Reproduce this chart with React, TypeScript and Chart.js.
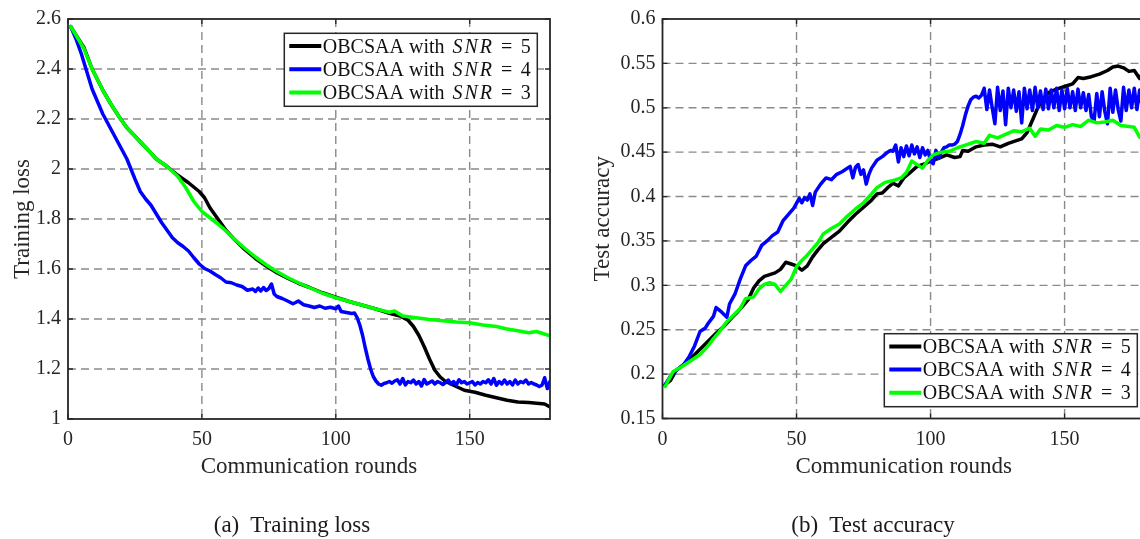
import React, { useEffect, useRef } from "react";
import { Chart, registerables } from "chart.js";

Chart.register(...registerables);

const FONT = '"Liberation Serif", "Times New Roman", serif';
const TEXT = "#262626";
const GRID = "#8a8a8a";

// ---------- ticks / labels ----------
const xTickValues = [0, 50, 100, 150];
const lossTickValues = [1, 1.2, 1.4, 1.6, 1.8, 2, 2.2, 2.4, 2.6];
const accTickValues = [0.15, 0.2, 0.25, 0.3, 0.35, 0.4, 0.45, 0.5, 0.55, 0.6];
const snrLevels = [5, 4, 3];
const seriesColors = ["#000000", "#0000ff", "#00ff00"];
const seriesOrder = [3, 2, 1];
const xTitle = "Communication rounds";
const lossTitle = "Training loss";
const accTitle = "Test accuracy";
const captionA = "(a)  Training loss";
const captionB = "(b)  Test accuracy";

const range = (a: number, b: number) => Array.from({ length: b - a + 1 }, (_, i) => a + i);

// ---------- (a) training loss ----------
const lossRoundsSNR5 = [1, 3, 6, 9, 13, 16, 19, 22, 26, 30, 33, 37, 41, 45, 49, 51, 53, 55, 57, 59, 62, 66, 70, 74, 78, 82, 86, 90, 95, 100, 105, 110, 115, 120, 124, 127, 129, 131, 133, 135, 137, 139, 141, 144, 148, 152, 156, 160, 164, 168, 172, 175, 178, 180];
const lossSNR5 = [2.57, 2.535, 2.485, 2.4, 2.315, 2.26, 2.21, 2.165, 2.12, 2.075, 2.04, 2.01, 1.975, 1.945, 1.91, 1.885, 1.845, 1.815, 1.785, 1.755, 1.72, 1.678, 1.642, 1.612, 1.585, 1.563, 1.543, 1.527, 1.505, 1.487, 1.47, 1.455, 1.44, 1.423, 1.412, 1.395, 1.37, 1.335, 1.29, 1.24, 1.195, 1.168, 1.15, 1.135, 1.115, 1.107, 1.095, 1.085, 1.075, 1.068, 1.066, 1.063, 1.06, 1.048];

const lossRoundsSNR3 = [1, 3, 6, 9, 13, 16, 19, 22, 26, 30, 33, 37, 41, 44, 47, 50, 53, 56, 59, 62, 66, 70, 74, 78, 82, 86, 90, 95, 100, 105, 110, 115, 120, 122, 125, 130, 135, 140, 145, 150, 155, 160, 164, 168, 172, 175, 177, 180];
const lossSNR3 = [2.57, 2.535, 2.48, 2.4, 2.315, 2.26, 2.21, 2.165, 2.12, 2.075, 2.04, 2.01, 1.97, 1.925, 1.87, 1.83, 1.805, 1.78, 1.752, 1.72, 1.683, 1.648, 1.617, 1.59, 1.566, 1.545, 1.526, 1.503, 1.485, 1.47, 1.455, 1.44, 1.427, 1.432, 1.412, 1.405, 1.398, 1.393, 1.388, 1.385, 1.376, 1.37, 1.36, 1.353, 1.345, 1.35, 1.343, 1.333];

const lossRoundsSNR4 = [1, 3, 5, 7, 9, 11, 13, 16, 19, 22, 25, 27, 29, 31, 33, 35, 37, 39, 41, 43, 45, 47, 49, 51, 53, 55, 57, 59, 61, 63, 65, 67, 69, 70, 71, 72, 73, 74, 75, 76, 77, 78, 80, 82, 84, 85, 86, 88, 90, 92, 94, 96, 98, 100, 101, 102, 104, 106, 107, 108, 109, 110, 111, 112, 113, 114, 115, 116, 117, 118, ...range(119, 180)];
const lossSNR4 = [
  2.57, 2.52, 2.46, 2.39, 2.32, 2.27, 2.22, 2.16, 2.1, 2.04,
  1.96, 1.91, 1.88, 1.855, 1.82, 1.785, 1.755, 1.725, 1.705, 1.69,
  1.672, 1.645, 1.62, 1.602, 1.592, 1.578, 1.565, 1.548, 1.545, 1.536,
  1.53, 1.515, 1.52, 1.51, 1.524, 1.512, 1.526, 1.514, 1.522, 1.54,
  1.5, 1.49, 1.482, 1.472, 1.461, 1.466, 1.472, 1.457, 1.452, 1.446,
  1.452, 1.443, 1.447, 1.441, 1.452, 1.43, 1.426, 1.422, 1.424, 1.405,
  1.375, 1.335, 1.285, 1.24, 1.2, 1.17, 1.152, 1.14, 1.135, 1.142,
  1.145, 1.15, 1.143, 1.152, 1.157, 1.14, 1.162, 1.136, 1.15, 1.145,
  1.156, 1.14, 1.15, 1.132, 1.158, 1.14, 1.146, 1.152, 1.14, 1.15,
  1.145, 1.138, 1.146, 1.156, 1.14, 1.15, 1.136, 1.157, 1.145, 1.15,
  1.14, 1.145, 1.15, 1.136, 1.146, 1.14, 1.15, 1.145, 1.157, 1.14,
  1.162, 1.135, 1.15, 1.14, 1.156, 1.14, 1.15, 1.136, 1.156, 1.14,
  1.15, 1.145, 1.156, 1.14, 1.146, 1.14, 1.136, 1.13, 1.135, 1.165,
  1.122, 1.15,
];

// ---------- (b) test accuracy ----------
const accRoundsSNR5 = [1, 3, 5, 8, 11, 14, 17, 20, 23, 26, 28, 30, 32, 34, 36, 38, 40, 42, 44, 46, 48, 50, 52, 54, 56, 58, 60, 63, 66, 69, 72, 75, 78, 80, 82, 84, 86, 88, 90, 92, 95, 98, 100, 103, 106, 109, 111, 112, 114, 117, 120, 123, 126, 129, 132, 134, 136, 138, 140, 142, 144, 147, 150, 153, 155, 157, 160, 163, 166, 168, 170, 172, 174, 176, 178, 180];
const accSNR5 = [0.188, 0.193, 0.204, 0.211, 0.219, 0.228, 0.237, 0.246, 0.254, 0.264, 0.27, 0.277, 0.284, 0.297, 0.305, 0.31, 0.312, 0.314, 0.318, 0.326, 0.324, 0.322, 0.317, 0.322, 0.332, 0.34, 0.347, 0.354, 0.361, 0.371, 0.38, 0.388, 0.396, 0.403, 0.404, 0.41, 0.415, 0.412, 0.421, 0.426, 0.434, 0.437, 0.44, 0.443, 0.447, 0.444, 0.445, 0.452, 0.451, 0.456, 0.458, 0.459, 0.456, 0.46, 0.463, 0.465, 0.472, 0.486, 0.5, 0.51, 0.517, 0.521, 0.524, 0.527, 0.534, 0.533, 0.535, 0.538, 0.542, 0.546, 0.547, 0.545, 0.541, 0.542, 0.533, 0.545];

const accRoundsSNR3 = [1, 2, 4, 7, 10, 14, 17, 19, 21, 24, 27, 29, 31, 34, 36, 38, 40, 42, 44, 46, 48, 50, 52, 54, 56, 58, 60, 63, 66, 69, 72, 75, 78, 80, 83, 86, 89, 91, 93, 95, 97, 99, 101, 104, 107, 110, 113, 117, 120, 122, 125, 128, 131, 134, 137, 139, 141, 144, 147, 150, 153, 156, 159, 162, 165, 168, 171, 174, 176, 178, 180];
const accSNR3 = [0.186, 0.192, 0.203, 0.208, 0.214, 0.222, 0.232, 0.24, 0.247, 0.259, 0.268, 0.274, 0.285, 0.287, 0.296, 0.301, 0.303, 0.301, 0.293, 0.3, 0.307, 0.321, 0.328, 0.334, 0.341, 0.348, 0.358, 0.364, 0.369, 0.378, 0.386, 0.393, 0.403, 0.41, 0.416, 0.418, 0.421, 0.427, 0.44, 0.436, 0.432, 0.441, 0.447, 0.45, 0.451, 0.455, 0.458, 0.462, 0.46, 0.469, 0.466, 0.47, 0.474, 0.473, 0.477, 0.468, 0.476, 0.475, 0.48, 0.478, 0.481, 0.479, 0.486, 0.483, 0.484, 0.486, 0.48, 0.479, 0.478, 0.467, 0.47];

const accRoundsSNR4 = [1, 3, 5, 8, 10, 12, 14, 16, 17, 19, 20, 22, 24, 25, 27, 29, 31, 33, 35, 37, 39, 41, 43, 45, 47, 49, 51, 52, 53, 54, 55, 56, 57, 59, 61, 63, 65, 67, 69, 70, 71, 72, 73, 74, 75, 76, 77, 78, 80, 82, 84, 85, 86, 87, 88, ...range(89, 180)];
const accSNR4 = [
  0.188, 0.198, 0.204, 0.211, 0.22, 0.232, 0.248, 0.252, 0.257, 0.265,
  0.275, 0.27, 0.264, 0.279, 0.29, 0.307, 0.322, 0.328, 0.333, 0.345,
  0.35, 0.356, 0.36, 0.373, 0.38, 0.387, 0.398, 0.393, 0.399, 0.396,
  0.403, 0.39, 0.405, 0.414, 0.421, 0.419, 0.425, 0.428, 0.432, 0.434,
  0.421, 0.433, 0.436, 0.425, 0.43, 0.414, 0.425, 0.432, 0.441, 0.445,
  0.45, 0.452, 0.451, 0.458, 0.439,
  0.455, 0.445, 0.457, 0.446, 0.458, 0.448, 0.456, 0.444, 0.455, 0.447,
  0.452, 0.44, 0.437, 0.452, 0.443, 0.45, 0.455, 0.456, 0.458, 0.458,
  0.459, 0.462, 0.47, 0.48, 0.492, 0.502, 0.509, 0.512, 0.513, 0.511,
  0.514,
  0.522, 0.498, 0.52, 0.5, 0.482, 0.523, 0.497, 0.519, 0.481, 0.522,
  0.5, 0.52, 0.496, 0.518, 0.483, 0.522, 0.499, 0.52, 0.497, 0.523,
  0.5, 0.519, 0.498, 0.521, 0.499, 0.52, 0.5, 0.522, 0.497, 0.52,
  0.499, 0.522, 0.5, 0.518, 0.497, 0.521, 0.5, 0.517, 0.497, 0.515,
  0.49, 0.485, 0.516, 0.49, 0.518, 0.496, 0.482, 0.522, 0.495, 0.52,
  0.498, 0.485, 0.523, 0.497, 0.52, 0.5, 0.522, 0.498, 0.52, 0.5,
  0.515,
];

const fmt = (v: number) => String(+Number(v).toFixed(2));

type PanelCfg = {
  series: { rounds: number[]; values: number[] }[];
  yTicks: number[];
  yMin: number;
  yMax: number;
  yTitle: string;
  yAxisWidth: number;
  yTitlePad: number;
  padding: { left: number; right: number; top: number; bottom: number };
  xAxisHeight: number;
  legend: { right: number; top?: number; bottom?: number };
};

function makeFramePlugin(cfg: PanelCfg) {
  return {
    id: "matlabFrame",
    beforeDatasetsDraw(chart: any) {
      const { ctx, chartArea: a, scales } = chart;
      ctx.save();
      ctx.strokeStyle = GRID;
      ctx.lineWidth = 1.4;
      ctx.setLineDash([8, 5]);
      for (const v of xTickValues) {
        const px = scales.x.getPixelForValue(v);
        if (px <= a.left + 1 || px >= a.right - 1) continue;
        ctx.beginPath();
        ctx.moveTo(px, a.top);
        ctx.lineTo(px, a.bottom);
        ctx.stroke();
      }
      for (const v of cfg.yTicks) {
        const py = scales.y.getPixelForValue(v);
        if (py <= a.top + 1 || py >= a.bottom - 1) continue;
        ctx.beginPath();
        ctx.moveTo(a.left, py);
        ctx.lineTo(a.right, py);
        ctx.stroke();
      }
      ctx.restore();
    },
    afterDatasetsDraw(chart: any) {
      const { ctx, chartArea: a, scales } = chart;
      ctx.save();
      ctx.strokeStyle = TEXT;
      ctx.lineWidth = 1.3;
      ctx.setLineDash([]);
      const tl = 5;
      for (const v of xTickValues) {
        const px = scales.x.getPixelForValue(v);
        ctx.beginPath();
        ctx.moveTo(px, a.bottom);
        ctx.lineTo(px, a.bottom - tl);
        ctx.moveTo(px, a.top);
        ctx.lineTo(px, a.top + tl);
        ctx.stroke();
      }
      for (const v of cfg.yTicks) {
        const py = scales.y.getPixelForValue(v);
        ctx.beginPath();
        ctx.moveTo(a.left, py);
        ctx.lineTo(a.left + tl, py);
        ctx.moveTo(a.right, py);
        ctx.lineTo(a.right - tl, py);
        ctx.stroke();
      }
      ctx.lineWidth = 1.8;
      ctx.strokeRect(a.left, a.top, a.right - a.left, a.bottom - a.top);
      ctx.restore();
    },
    afterDraw(chart: any) {
      const { ctx, chartArea: a } = chart;
      const w = 253;
      const h = 73;
      const x0 = a.right - cfg.legend.right - w;
      const y0 = cfg.legend.top !== undefined ? a.top + cfg.legend.top : a.bottom - (cfg.legend.bottom || 0) - h;
      ctx.save();
      ctx.fillStyle = "#ffffff";
      ctx.fillRect(x0, y0, w, h);
      ctx.strokeStyle = TEXT;
      ctx.lineWidth = 1.5;
      ctx.strokeRect(x0, y0, w, h);
      snrLevels.forEach((snr, i) => {
        const ry = y0 + 12.7 + i * 23.2;
        ctx.strokeStyle = seriesColors[i];
        ctx.lineWidth = 4;
        ctx.beginPath();
        ctx.moveTo(x0 + 5, ry);
        ctx.lineTo(x0 + 37, ry);
        ctx.stroke();
        ctx.fillStyle = "#111111";
        ctx.textBaseline = "alphabetic";
        ctx.textAlign = "left";
        let x = x0 + 38.5;
        const by = ry + 6.5;
        ctx.font = `20px ${FONT}`;
        const t1 = "OBCSAA with";
        ctx.fillText(t1, x, by);
        x += ctx.measureText(t1).width + 8;
        ctx.font = `italic 20px ${FONT}`;
        for (const ch of "SNR") {
          ctx.fillText(ch, x, by);
          x += ctx.measureText(ch).width + 2;
        }
        x += 7;
        ctx.font = `20px ${FONT}`;
        ctx.fillText("=", x, by);
        x += ctx.measureText("=").width + 8.5;
        ctx.fillText(String(snr), x, by);
      });
      ctx.restore();
    },
  };
}

function buildChart(canvas: HTMLCanvasElement, cfg: PanelCfg) {
  const datasets = cfg.series.map((s, i) => ({
    label: `OBCSAA with SNR = ${snrLevels[i]}`,
    data: s.rounds.map((r, k) => ({ x: r, y: s.values[k] })),
    borderColor: seriesColors[i],
    backgroundColor: seriesColors[i],
    borderWidth: 3.5,
    pointRadius: 0,
    tension: 0,
    fill: false,
    order: seriesOrder[i],
    borderJoinStyle: "round" as const,
    borderCapStyle: "round" as const,
  }));
  return new Chart(canvas, {
    type: "line",
    data: { datasets },
    options: {
      responsive: false,
      animation: false,
      devicePixelRatio: 1,
      layout: { padding: cfg.padding },
      plugins: { legend: { display: false }, tooltip: { enabled: false } },
      scales: {
        x: {
          type: "linear",
          min: 0,
          max: 180,
          afterBuildTicks: (s: any) => {
            s.ticks = xTickValues.map((v) => ({ value: v }));
          },
          afterFit: (s: any) => {
            s.height = cfg.xAxisHeight;
          },
          grid: { display: false, drawTicks: false },
          border: { display: false },
          ticks: {
            padding: 9,
            color: TEXT,
            autoSkip: false,
            maxRotation: 0,
            font: { family: FONT, size: 20 },
            callback: (v: any) => fmt(v),
          },
          title: {
            display: true,
            text: xTitle,
            color: TEXT,
            font: { family: FONT, size: 23 },
            padding: { top: 0, bottom: 58 },
          },
        },
        y: {
          type: "linear",
          min: cfg.yMin,
          max: cfg.yMax,
          afterBuildTicks: (s: any) => {
            s.ticks = cfg.yTicks.map((v) => ({ value: v }));
          },
          afterFit: (s: any) => {
            s.width = cfg.yAxisWidth;
          },
          grid: { display: false, drawTicks: false },
          border: { display: false },
          ticks: {
            padding: 7,
            color: TEXT,
            autoSkip: false,
            font: { family: FONT, size: 20 },
            callback: (v: any) => fmt(v),
          },
          title: {
            display: true,
            text: cfg.yTitle,
            color: TEXT,
            font: { family: FONT, size: 23 },
            padding: { top: cfg.yTitlePad, bottom: 0 },
          },
        },
      },
    } as any,
    plugins: [makeFramePlugin(cfg) as any],
  });
}

const lossCfg: PanelCfg = {
  series: [
    { rounds: lossRoundsSNR5, values: lossSNR5 },
    { rounds: lossRoundsSNR4, values: lossSNR4 },
    { rounds: lossRoundsSNR3, values: lossSNR3 },
  ],
  yTicks: lossTickValues,
  yMin: 1,
  yMax: 2.6,
  yTitle: lossTitle,
  yAxisWidth: 68,
  yTitlePad: 8.7,
  padding: { left: 0, right: 20, top: 16, bottom: 0 },
  xAxisHeight: 120,
  legend: { right: 12.7, top: 14.3 },
};

const accCfg: PanelCfg = {
  series: [
    { rounds: accRoundsSNR5, values: accSNR5 },
    { rounds: accRoundsSNR4, values: accSNR4 },
    { rounds: accRoundsSNR3, values: accSNR3 },
  ],
  yTicks: accTickValues,
  yMin: 0.15,
  yMax: 0.6,
  yTitle: accTitle,
  yAxisWidth: 92.5,
  yTitlePad: 18.7,
  padding: { left: 0, right: 25, top: 11.5, bottom: 0 },
  xAxisHeight: 120.5,
  legend: { right: 7.7, bottom: 11.8 },
};

export default function App() {
  const leftRef = useRef<HTMLCanvasElement>(null);
  const rightRef = useRef<HTMLCanvasElement>(null);

  useEffect(() => {
    const c1 = buildChart(leftRef.current!, lossCfg);
    const c2 = buildChart(rightRef.current!, accCfg);
    return () => {
      c1.destroy();
      c2.destroy();
    };
  }, []);

  const caption: React.CSSProperties = {
    position: "absolute",
    top: 524,
    transform: "translate(-50%, -50%)",
    fontFamily: FONT,
    fontSize: 23,
    color: "#1a1a1a",
    whiteSpace: "pre",
    lineHeight: 1,
  };

  return (
    <div
      style={{
        position: "fixed",
        left: 0,
        top: 0,
        width: 1140,
        height: 539,
        overflow: "hidden",
        background: "#ffffff",
      }}
    >
      <canvas
        ref={leftRef}
        width={570}
        height={539}
        style={{ position: "absolute", left: 0, top: 0, width: 570, height: 539, display: "block" }}
      />
      <canvas
        ref={rightRef}
        width={600}
        height={539}
        style={{ position: "absolute", left: 570, top: 0, width: 600, height: 539, display: "block" }}
      />
      <div style={{ ...caption, left: 292 }}>{captionA}</div>
      <div style={{ ...caption, left: 873 }}>{captionB}</div>
    </div>
  );
}
